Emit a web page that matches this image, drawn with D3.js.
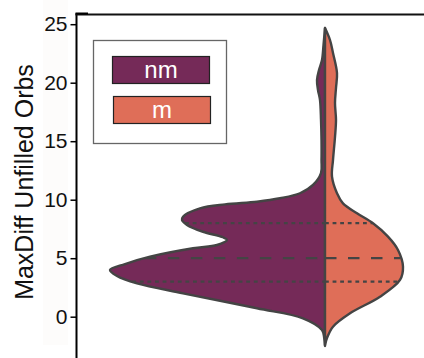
<!DOCTYPE html>
<html><head><meta charset="utf-8">
<script src="https://cdn.jsdelivr.net/npm/d3@7"></script>
<style>html,body{margin:0;padding:0;background:#fff;} svg{display:block;}</style>
</head><body>
<svg id="c" width="424" height="358"></svg>
<script>
// ---- data ----
const categories = ["nm", "m"];
const colors = ["#752a58", "#df6e58"];
const yTicks = [0, 5, 10, 15, 20, 25];
const yLabel = "MaxDiff Unfilled Orbs";

// kernel density profiles (value -> relative density)
const nmValues  = [-2.5, -1.82, -1.14, -0.14, 0.72, 2.0, 2.85, 3.48, 3.99, 4.5, 5.13, 5.85, 6.13, 6.56, 6.79, 7.26, 7.84, 8.26, 8.55, 9.26, 9.6, 9.83, 10.12, 10.55, 11.26, 12.28, 13.4, 15.1, 16.81, 18.52, 19.38, 20.23, 21.08, 21.94, 23.22, 24.67];
const nmDensity = [0, 0.0008, 0.003, 0.022, 0.068, 0.142, 0.188, 0.208, 0.215, 0.2, 0.175, 0.132, 0.108, 0.098, 0.102, 0.122, 0.138, 0.143, 0.142, 0.125, 0.1, 0.068, 0.045, 0.025, 0.012, 0.004, 0.0035, 0.0035, 0.004, 0.005, 0.007, 0.008, 0.006, 0.003, 0.0015, 0];
const mValues   = [-2.42, -1.82, -0.85, 0.29, 1.71, 3.14, 4.27, 5.7, 6.84, 7.98, 8.84, 9.69, 10.55, 11.97, 13.39, 15.36, 16.81, 18.26, 19.55, 20.83, 22.54, 23.65, 24.67];
const mDensity  = [0, 0.002, 0.008, 0.025, 0.055, 0.075, 0.078, 0.073, 0.063, 0.048, 0.032, 0.018, 0.012, 0.007, 0.008, 0.010, 0.011, 0.010, 0.011, 0.012, 0.008, 0.005, 0];
const nmQuartiles = [3, 5, 8];
const mQuartiles  = [3, 5, 8];

// ---- layout ----
const svg = d3.select("#c");
const W = 424, H = 358;
const plotLeft = 76.5, plotTop = 14.5;

const y = d3.scaleLinear().domain([0, 25]).range([316.7, 24.2]);
const x = d3.scaleBand().domain(["all"]).range([plotLeft, 573.5]);
const cx = x("all") + x.bandwidth() / 2;
const w = d3.scaleLinear().domain([0, 0.215]).range([0, 215]);

// faint label background
svg.append("rect").attr("x", 43).attr("y", 0).attr("width", 25).attr("height", 345).attr("fill", "#fdfcfb");

const series = [
  {name: "nm", values: nmValues, dens: nmDensity, q: nmQuartiles, side: -1, color: colors[0]},
  {name: "m",  values: mValues,  dens: mDensity,  q: mQuartiles,  side: 1,  color: colors[1]}
];

const outline = "#444444";
series.forEach(s => {
  const pts = s.values.map((v, i) => ({v, d: s.dens[i]}));
  const area = d3.area()
    .y(p => y(p.v))
    .x0(p => cx + s.side * w(p.d))
    .x1(cx)
    .curve(d3.curveCatmullRom.alpha(0.5));
  svg.append("path").attr("d", area(pts))
    .attr("fill", s.color).attr("stroke", outline).attr("stroke-width", 2.4)
    .attr("stroke-linejoin", "round");
});

// quartile lines
series.forEach(s => {
  const interp = d3.scaleLinear().domain(s.values).range(s.dens);
  s.q.forEach((q, i) => {
    const hw = w(interp(q));
    const xEdge = cx + s.side * hw;
    const x1 = s.side < 0 ? xEdge : cx;
    const x2 = s.side < 0 ? cx : xEdge;
    svg.append("line")
      .attr("x1", x1).attr("x2", x2).attr("y1", y(q)).attr("y2", y(q))
      .attr("stroke", outline).attr("stroke-width", 2.3)
      .attr("stroke-dasharray", i === 1 ? "11.5,11.5" : "3.8,3.8");
  });
});

// axes / spines
const yAxis = d3.axisLeft(y).tickValues(yTicks).tickSize(6).tickPadding(3);
const gy = svg.append("g").attr("transform", `translate(${plotLeft},0)`).call(yAxis);
gy.select(".domain").remove();
gy.selectAll(".tick line").attr("stroke", "#000").attr("stroke-width", 1.5);
gy.selectAll(".tick text").attr("font-family", "'Liberation Sans', Arial, sans-serif")
  .attr("font-size", 21).attr("fill", "#111");

svg.append("line").attr("x1", plotLeft).attr("x2", plotLeft).attr("y1", plotTop - 1).attr("y2", H)
  .attr("stroke", "#000").attr("stroke-width", 2);
svg.append("line").attr("x1", plotLeft - 1).attr("x2", W).attr("y1", plotTop).attr("y2", plotTop)
  .attr("stroke", "#111").attr("stroke-width", 1.8);
svg.append("line").attr("x1", plotLeft - 1).attr("x2", 88).attr("y1", plotTop - 1).attr("y2", plotTop - 1)
  .attr("stroke", "#000").attr("stroke-width", 2);

// y label
svg.append("text").attr("transform", `translate(33,182) rotate(-90)`)
  .attr("text-anchor", "middle").attr("font-family", "'Liberation Sans', Arial, sans-serif")
  .attr("font-size", 25).attr("fill", "#111").text(yLabel);

// legend
const lg = svg.append("g");
lg.append("rect").attr("x", 93.5).attr("y", 40.5).attr("width", 133).attr("height", 103)
  .attr("fill", "#fff").attr("stroke", "#666").attr("stroke-width", 1.3);
categories.forEach((c, i) => {
  const ry = 56.5 + i * 40;
  lg.append("rect").attr("x", 112.5 + i).attr("y", ry).attr("width", 97).attr("height", 27)
    .attr("fill", colors[i]).attr("stroke", "#222").attr("stroke-width", 1.2);
  lg.append("text").attr("x", 161 + i).attr("y", ry + 13.5 + 7.5).attr("text-anchor", "middle")
    .attr("font-family", "'Liberation Sans', Arial, sans-serif").attr("font-size", 24)
    .attr("fill", "#fff").text(c);
});
</script>
</body></html>
